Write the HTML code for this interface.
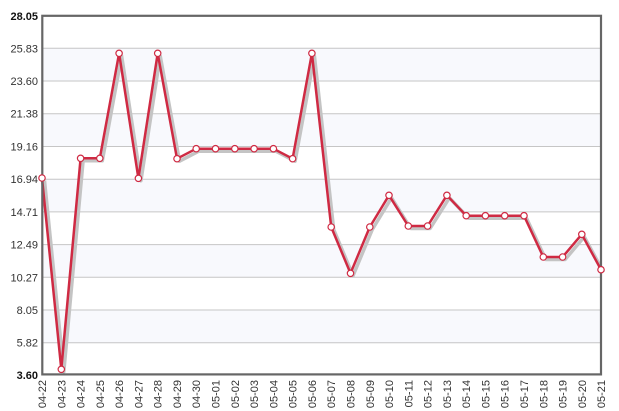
<!DOCTYPE html>
<html><head><meta charset="utf-8"><style>
html,body{margin:0;padding:0;background:#fff;}
svg{display:block;}
text{font-family:"Liberation Sans",Arial,sans-serif;font-size:11px;fill:#333;}
</style></head><body>
<svg width="619" height="411" viewBox="0 0 619 411" xmlns="http://www.w3.org/2000/svg">
<g id="bands" fill="#f8f9fd">
<rect x="42" y="48.3" width="559" height="32.7"/>
<rect x="42" y="113.7" width="559" height="32.7"/>
<rect x="42" y="179.1" width="559" height="32.7"/>
<rect x="42" y="244.6" width="559" height="32.7"/>
<rect x="42" y="310" width="559" height="32.7"/>
</g>
<g stroke="#c6c6c6" stroke-width="1">
<line x1="42" x2="601" y1="48.3" y2="48.3"/>
<line x1="42" x2="601" y1="81" y2="81"/>
<line x1="42" x2="601" y1="113.7" y2="113.7"/>
<line x1="42" x2="601" y1="146.5" y2="146.5"/>
<line x1="42" x2="601" y1="179.2" y2="179.2"/>
<line x1="42" x2="601" y1="211.9" y2="211.9"/>
<line x1="42" x2="601" y1="244.6" y2="244.6"/>
<line x1="42" x2="601" y1="277.3" y2="277.3"/>
<line x1="42" x2="601" y1="310" y2="310"/>
<line x1="42" x2="601" y1="342.7" y2="342.7"/>
</g>
<g text-anchor="end">
<text x="38" y="20" font-weight="bold" style="fill:#111">28.05</text>
<text x="38" y="52.3">25.83</text>
<text x="38" y="85">23.60</text>
<text x="38" y="117.7">21.38</text>
<text x="38" y="150.5">19.16</text>
<text x="38" y="183.2">16.94</text>
<text x="38" y="215.9">14.71</text>
<text x="38" y="248.6">12.49</text>
<text x="38" y="281.3">10.27</text>
<text x="38" y="314">8.05</text>
<text x="38" y="346.7">5.82</text>
<text x="38" y="379" font-weight="bold" style="fill:#111">3.60</text>
</g>
<polyline transform="translate(2.5,2.5)" fill="none" stroke="#c4c4c4" stroke-width="3.5" stroke-linejoin="round" points="42,178 61.3,369.3 80.6,158.3 99.8,158.3 119.1,53.3 138.4,178.3 157.7,53.3 177,158.7 196.2,148.7 215.5,148.7 234.8,148.7 254.1,148.7 273.4,148.7 292.6,158.7 311.9,53.3 331.2,227 350.5,273.3 369.8,227 389,195.3 408.3,226 427.6,226 446.9,195.3 466.2,215.7 485.4,215.7 504.7,215.7 524,215.7 543.3,257 562.6,257 581.8,234.3 601,269.7"/>
<polyline fill="none" stroke="#cf2a43" stroke-width="2.5" stroke-linejoin="round" points="42,178 61.3,369.3 80.6,158.3 99.8,158.3 119.1,53.3 138.4,178.3 157.7,53.3 177,158.7 196.2,148.7 215.5,148.7 234.8,148.7 254.1,148.7 273.4,148.7 292.6,158.7 311.9,53.3 331.2,227 350.5,273.3 369.8,227 389,195.3 408.3,226 427.6,226 446.9,195.3 466.2,215.7 485.4,215.7 504.7,215.7 524,215.7 543.3,257 562.6,257 581.8,234.3 601,269.7"/>
<rect x="42.3" y="15.8" width="558.7" height="358.6" fill="none" stroke="#666" stroke-width="2.2"/>
<g fill="#fff" stroke="#cf2a43" stroke-width="1.2">
<circle cx="42" cy="178" r="3.2"/>
<circle cx="61.3" cy="369.3" r="3.2"/>
<circle cx="80.6" cy="158.3" r="3.2"/>
<circle cx="99.8" cy="158.3" r="3.2"/>
<circle cx="119.1" cy="53.3" r="3.2"/>
<circle cx="138.4" cy="178.3" r="3.2"/>
<circle cx="157.7" cy="53.3" r="3.2"/>
<circle cx="177" cy="158.7" r="3.2"/>
<circle cx="196.2" cy="148.7" r="3.2"/>
<circle cx="215.5" cy="148.7" r="3.2"/>
<circle cx="234.8" cy="148.7" r="3.2"/>
<circle cx="254.1" cy="148.7" r="3.2"/>
<circle cx="273.4" cy="148.7" r="3.2"/>
<circle cx="292.6" cy="158.7" r="3.2"/>
<circle cx="311.9" cy="53.3" r="3.2"/>
<circle cx="331.2" cy="227" r="3.2"/>
<circle cx="350.5" cy="273.3" r="3.2"/>
<circle cx="369.8" cy="227" r="3.2"/>
<circle cx="389" cy="195.3" r="3.2"/>
<circle cx="408.3" cy="226" r="3.2"/>
<circle cx="427.6" cy="226" r="3.2"/>
<circle cx="446.9" cy="195.3" r="3.2"/>
<circle cx="466.2" cy="215.7" r="3.2"/>
<circle cx="485.4" cy="215.7" r="3.2"/>
<circle cx="504.7" cy="215.7" r="3.2"/>
<circle cx="524" cy="215.7" r="3.2"/>
<circle cx="543.3" cy="257" r="3.2"/>
<circle cx="562.6" cy="257" r="3.2"/>
<circle cx="581.8" cy="234.3" r="3.2"/>
<circle cx="601" cy="269.7" r="3.2"/>
</g>
<g text-anchor="end" font-size="10.5">
<text transform="translate(46,380) rotate(-90)">04-22</text>
<text transform="translate(65.3,380) rotate(-90)">04-23</text>
<text transform="translate(84.6,380) rotate(-90)">04-24</text>
<text transform="translate(103.8,380) rotate(-90)">04-25</text>
<text transform="translate(123.1,380) rotate(-90)">04-26</text>
<text transform="translate(142.4,380) rotate(-90)">04-27</text>
<text transform="translate(161.7,380) rotate(-90)">04-28</text>
<text transform="translate(181,380) rotate(-90)">04-29</text>
<text transform="translate(200.2,380) rotate(-90)">04-30</text>
<text transform="translate(219.5,380) rotate(-90)">05-01</text>
<text transform="translate(238.8,380) rotate(-90)">05-02</text>
<text transform="translate(258.1,380) rotate(-90)">05-03</text>
<text transform="translate(277.4,380) rotate(-90)">05-04</text>
<text transform="translate(296.6,380) rotate(-90)">05-05</text>
<text transform="translate(315.9,380) rotate(-90)">05-06</text>
<text transform="translate(335.2,380) rotate(-90)">05-07</text>
<text transform="translate(354.5,380) rotate(-90)">05-08</text>
<text transform="translate(373.8,380) rotate(-90)">05-09</text>
<text transform="translate(393,380) rotate(-90)">05-10</text>
<text transform="translate(412.3,380) rotate(-90)">05-11</text>
<text transform="translate(431.6,380) rotate(-90)">05-12</text>
<text transform="translate(450.9,380) rotate(-90)">05-13</text>
<text transform="translate(470.2,380) rotate(-90)">05-14</text>
<text transform="translate(489.4,380) rotate(-90)">05-15</text>
<text transform="translate(508.7,380) rotate(-90)">05-16</text>
<text transform="translate(528,380) rotate(-90)">05-17</text>
<text transform="translate(547.3,380) rotate(-90)">05-18</text>
<text transform="translate(566.6,380) rotate(-90)">05-19</text>
<text transform="translate(585.8,380) rotate(-90)">05-20</text>
<text transform="translate(605,380) rotate(-90)">05-21</text>
</g>
</svg>
</body></html>
